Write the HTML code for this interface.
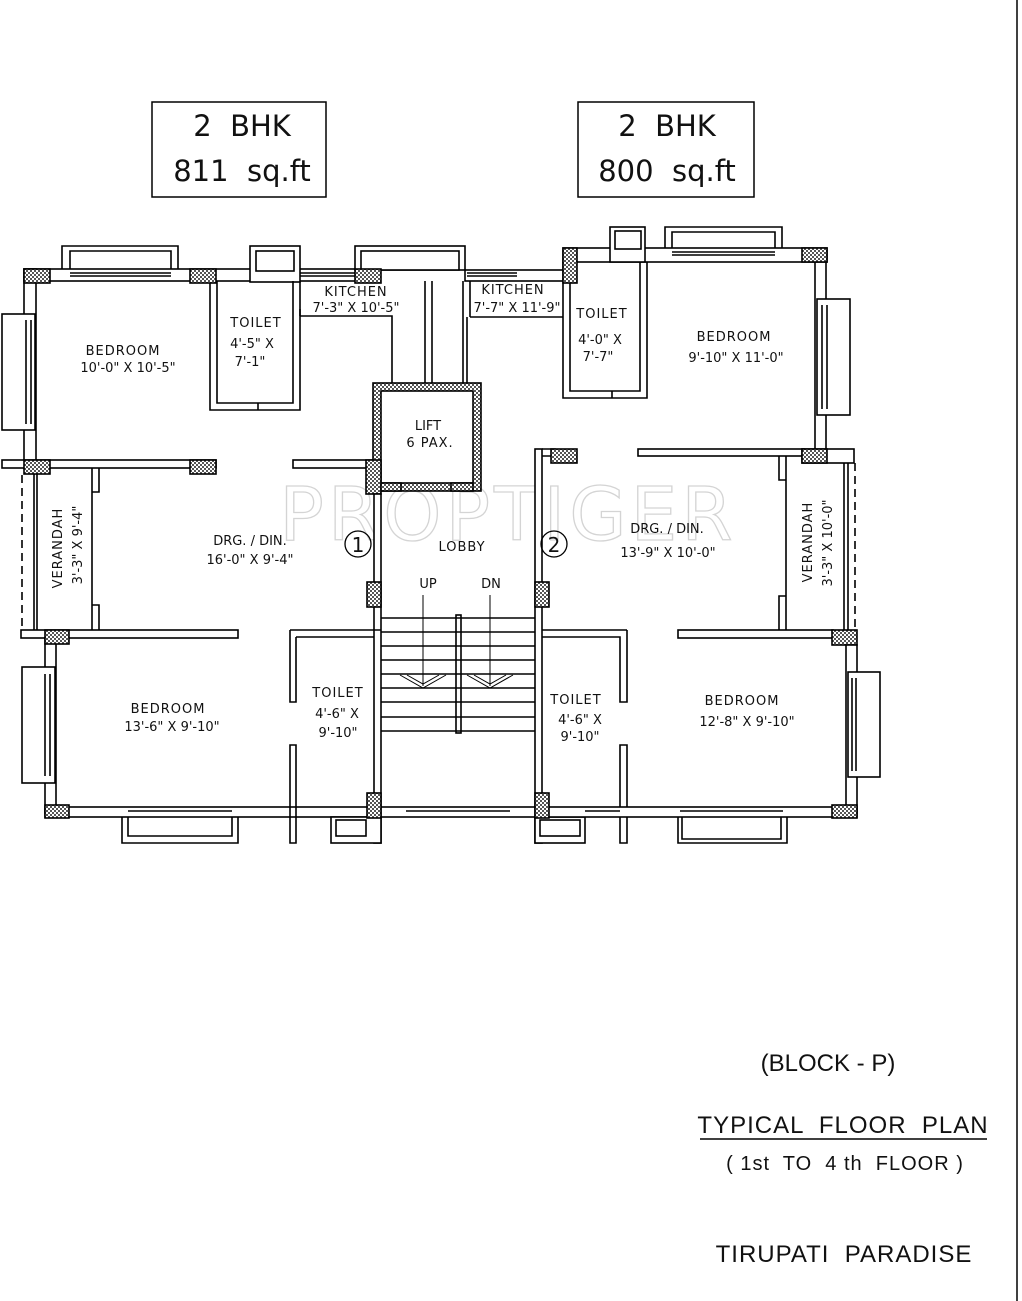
<!DOCTYPE html>
<html><head><meta charset="utf-8"><style>
html,body{margin:0;padding:0;background:#fff;}
svg{display:block;}
text{font-family:"DejaVu Sans","Liberation Sans",sans-serif;fill:#111;white-space:pre;}
</style></head><body>
<svg width="1022" height="1301" viewBox="0 0 1022 1301" xmlns="http://www.w3.org/2000/svg">
<defs>
<pattern id="h" width="4" height="4" patternUnits="userSpaceOnUse">
<rect width="4" height="4" fill="#fff"/><rect width="2" height="2" fill="#555"/><rect x="2" y="2" width="2" height="2" fill="#555"/>
</pattern>
</defs>
<line x1="1017" y1="0" x2="1017" y2="1301" stroke="#000" stroke-width="1.5"/>

<!-- header boxes -->
<rect x="152" y="102" width="174" height="95" fill="none" stroke="#000" stroke-width="1.5"/>
<text x="242" y="136" font-size="29" text-anchor="middle">2  BHK</text>
<text x="242" y="181" font-size="29" text-anchor="middle">811  sq.ft</text>
<rect x="578" y="102" width="176" height="95" fill="none" stroke="#000" stroke-width="1.5"/>
<text x="667" y="136" font-size="29" text-anchor="middle">2  BHK</text>
<text x="667" y="181" font-size="29" text-anchor="middle">800  sq.ft</text>

<!-- watermark -->
<text x="508" y="540" font-size="74" text-anchor="middle" stroke="#d4d4d4" stroke-width="1.3" letter-spacing="4" style="fill:none">PROPTIGER</text>

<g fill="#fff" stroke="#000" stroke-width="1.6">
<rect x="24" y="269" width="350" height="12"/>
<rect x="24" y="269" width="12" height="199"/>
<path d="M62 269 V246 H178 V269 M70 269 V251 H171 V269" fill="none"/>
<line x1="70" y1="273" x2="171" y2="273"/>
<line x1="70" y1="276" x2="171" y2="276"/>
<rect x="2" y="314" width="33" height="116"/>
<line x1="26" y1="320" x2="26" y2="424"/><line x1="31" y1="320" x2="31" y2="424"/>
<rect x="250" y="246" width="50" height="36"/>
<rect x="256" y="251" width="38" height="20"/>
<path d="M210 281 V410 H258 V403 H293 V281 M217 281 V403 H258 M300 281 V410 H258" fill="none"/>
<rect x="355" y="246" width="110" height="24"/>
<rect x="361" y="251" width="98" height="19"/>
<path d="M300 316 H392 V383 M300 309 V316" fill="none"/>
<line x1="425" y1="281" x2="425" y2="383"/>
<line x1="432" y1="281" x2="432" y2="383"/>
<line x1="300" y1="273" x2="355" y2="273"/><line x1="300" y1="276" x2="355" y2="276"/>
<rect x="2" y="460" width="214" height="8"/>
<rect x="293" y="460" width="80" height="8"/>

<rect x="465" y="270" width="100" height="11"/>
<line x1="467" y1="273" x2="517" y2="273"/><line x1="467" y1="276" x2="517" y2="276"/>
<path d="M470 317 H563 M467 317 V383 M470 281 V317" fill="none"/>
<line x1="463" y1="281" x2="463" y2="383"/>
<rect x="563" y="248" width="264" height="14"/>
<rect x="610" y="227" width="35" height="35"/>
<rect x="615" y="231" width="26" height="18"/>
<path d="M665 248 V227 H782 V248 M672 248 V232 H775 V248" fill="none"/>
<line x1="672" y1="252" x2="775" y2="252"/><line x1="672" y1="255" x2="775" y2="255"/>
<path d="M563 262 V398 H612 V391 H640 V262 M570 262 V391 H612 M647 262 V398 H612" fill="none"/>
<rect x="815" y="262" width="11" height="192"/>
<rect x="817" y="299" width="33" height="116"/>
<line x1="822" y1="305" x2="822" y2="409"/><line x1="827" y1="305" x2="827" y2="409"/>
<rect x="638" y="449" width="166" height="7"/>
<rect x="802" y="449" width="52" height="14"/>

<rect x="373" y="383" width="108" height="108" fill="url(#h)"/>
<rect x="381" y="391" width="92" height="92" fill="#fff"/>
<rect x="366" y="460" width="15" height="34" fill="url(#h)"/>
<rect x="381" y="483" width="20" height="8" fill="url(#h)"/>
<rect x="451" y="483" width="22" height="8" fill="url(#h)"/>

<rect x="374" y="494" width="7" height="349"/>
<rect x="535" y="449" width="7" height="394"/>
<path d="M542 449 H555 V456 H542" fill="none"/>

<path d="M34 468 V630 M37 468 V630" fill="none"/>
<path d="M92 468 V630 M92 492 H99 V468 M92 605 H99 V630" fill="none"/>
<path d="M22 475 V628" stroke-dasharray="8,5" fill="none"/>
<path d="M848 463 V630 M844 463 V630" fill="none"/>
<path d="M786 456 V630 M786 480 H779 V456 M786 596 H779 V630" fill="none"/>
<path d="M855 463 V628" stroke-dasharray="8,5" fill="none"/>

<rect x="21" y="630" width="217" height="8"/>
<rect x="45" y="638" width="11" height="175"/>
<rect x="22" y="667" width="33" height="116"/>
<line x1="45" y1="674" x2="45" y2="776"/><line x1="50" y1="674" x2="50" y2="776"/>
<rect x="45" y="807" width="336" height="10"/>
<line x1="128" y1="811" x2="232" y2="811"/>
<path d="M122 817 V843 H238 V817 M128 817 V836 H232 V817" fill="none"/>
<path d="M290 630 H381 M296 637 H374 M290 630 V702 H296 V637 M290 745 H296 V843 H290 Z M290 745 V843" fill="none"/>
<rect x="331" y="817" width="50" height="26"/>
<rect x="336" y="820" width="30" height="16"/>

<rect x="381" y="807" width="154" height="10"/>
<line x1="406" y1="811" x2="510" y2="811"/>
<rect x="456" y="615" width="5" height="118"/>
<g fill="none">
<line x1="381" y1="618" x2="535" y2="618"/>
<line x1="381" y1="632" x2="535" y2="632"/>
<line x1="381" y1="646" x2="535" y2="646"/>
<line x1="381" y1="660" x2="535" y2="660"/>
<line x1="381" y1="674" x2="535" y2="674"/>
<line x1="381" y1="688" x2="535" y2="688"/>
<line x1="381" y1="702" x2="535" y2="702"/>
<line x1="381" y1="717" x2="535" y2="717"/>
<line x1="381" y1="731" x2="535" y2="731"/>
<line x1="423" y1="595" x2="423" y2="686" stroke-width="1"/>
<line x1="490" y1="595" x2="490" y2="686" stroke-width="1"/>
<path d="M400 675 L423 688 L446 675 M407 675 L423 684 L439 675" stroke-width="1"/>
<path d="M467 675 L490 688 L513 675 M474 675 L490 684 L506 675" stroke-width="1"/>
</g>

<path d="M542 630 H627 M542 637 H620 V702 H627 V630 M620 745 H627 V843 H620 Z M620 745 V843" fill="none"/>
<rect x="535" y="817" width="50" height="26"/>
<rect x="540" y="820" width="40" height="16"/>
<rect x="678" y="630" width="155" height="8"/>
<rect x="832" y="630" width="25" height="15" fill="url(#h)"/>
<rect x="846" y="645" width="11" height="168"/>
<rect x="848" y="672" width="32" height="105"/>
<line x1="852" y1="678" x2="852" y2="771"/><line x1="856" y1="678" x2="856" y2="771"/>
<rect x="542" y="807" width="315" height="10"/>
<line x1="585" y1="811" x2="620" y2="811"/>
<line x1="680" y1="811" x2="783" y2="811"/>
<path d="M678 817 V843 H787 V817 M682 817 V839 H781 V817" fill="none"/>

<g fill="url(#h)">
<rect x="24" y="269" width="26" height="14"/>
<rect x="190" y="269" width="26" height="14"/>
<rect x="355" y="269" width="26" height="14"/>
<rect x="563" y="248" width="14" height="35"/>
<rect x="802" y="248" width="25" height="14"/>
<rect x="802" y="449" width="25" height="14"/>
<rect x="551" y="449" width="26" height="14"/>
<rect x="24" y="460" width="26" height="14"/>
<rect x="190" y="460" width="26" height="14"/>
<rect x="45" y="630" width="24" height="14"/>
<rect x="45" y="805" width="24" height="13"/>
<rect x="367" y="582" width="14" height="25"/>
<rect x="367" y="793" width="14" height="25"/>
<rect x="535" y="582" width="14" height="25"/>
<rect x="535" y="793" width="14" height="25"/>
<rect x="832" y="805" width="25" height="13"/>
</g>
</g>

<g font-size="13" text-anchor="middle">
<text x="123" y="355" letter-spacing="1">BEDROOM</text>
<text x="128" y="372">10'-0" X 10'-5"</text>
<text x="256" y="327" letter-spacing="1">TOILET</text>
<text x="252" y="348">4'-5" X</text>
<text x="250" y="366">7'-1"</text>
<text x="356" y="296" letter-spacing="1">KITCHEN</text>
<text x="356" y="312">7'-3" X 10'-5"</text>
<text x="428" y="430">LIFT</text>
<text x="430" y="447" letter-spacing="1">6 PAX.</text>
<text x="513" y="294" letter-spacing="1">KITCHEN</text>
<text x="517" y="312">7'-7" X 11'-9"</text>
<text x="602" y="318" letter-spacing="1">TOILET</text>
<text x="600" y="344">4'-0" X</text>
<text x="598" y="361">7'-7"</text>
<text x="734" y="341" letter-spacing="1">BEDROOM</text>
<text x="736" y="362">9'-10" X 11'-0"</text>
<text x="250" y="545">DRG. / DIN.</text>
<text x="250" y="564">16'-0" X 9'-4"</text>
<text x="462" y="551" letter-spacing="1">LOBBY</text>
<text x="428" y="588">UP</text>
<text x="491" y="588">DN</text>
<text x="667" y="533">DRG. / DIN.</text>
<text x="668" y="557">13'-9" X 10'-0"</text>
<text x="168" y="713" letter-spacing="1">BEDROOM</text>
<text x="172" y="731">13'-6" X 9'-10"</text>
<text x="338" y="697" letter-spacing="1">TOILET</text>
<text x="337" y="718">4'-6" X</text>
<text x="338" y="737">9'-10"</text>
<text x="576" y="704" letter-spacing="1">TOILET</text>
<text x="580" y="724">4'-6" X</text>
<text x="580" y="741">9'-10"</text>
<text x="742" y="705" letter-spacing="1">BEDROOM</text>
<text x="747" y="726">12'-8" X 9'-10"</text>
<text transform="translate(62,548) rotate(-90)" letter-spacing="1">VERANDAH</text>
<text transform="translate(82,545) rotate(-90)">3'-3" X 9'-4"</text>
<text transform="translate(812,542) rotate(-90)" letter-spacing="1">VERANDAH</text>
<text transform="translate(832,543) rotate(-90)">3'-3" X 10'-0"</text>
</g>
<circle cx="358" cy="544" r="13" fill="none" stroke="#000" stroke-width="1.3"/>
<text x="358" y="552" font-size="20" text-anchor="middle">1</text>
<circle cx="554" cy="544" r="13" fill="none" stroke="#000" stroke-width="1.3"/>
<text x="554" y="552" font-size="20" text-anchor="middle">2</text>

<g text-anchor="middle">
<text x="828" y="1071" font-size="24" style="font-family:'Liberation Sans',sans-serif">(BLOCK - P)</text>
<text x="843" y="1133" font-size="24" letter-spacing="1" style="font-family:'Liberation Sans',sans-serif">TYPICAL  FLOOR  PLAN</text>
<line x1="700" y1="1139" x2="987" y2="1139" stroke="#000" stroke-width="1.5"/>
<text x="845" y="1170" font-size="20" letter-spacing="1" style="font-family:'Liberation Sans',sans-serif">( 1st  TO  4 th  FLOOR )</text>
<text x="844" y="1262" font-size="24" letter-spacing="1" style="font-family:'Liberation Sans',sans-serif">TIRUPATI  PARADISE</text>
</g>
</svg>
</body></html>
